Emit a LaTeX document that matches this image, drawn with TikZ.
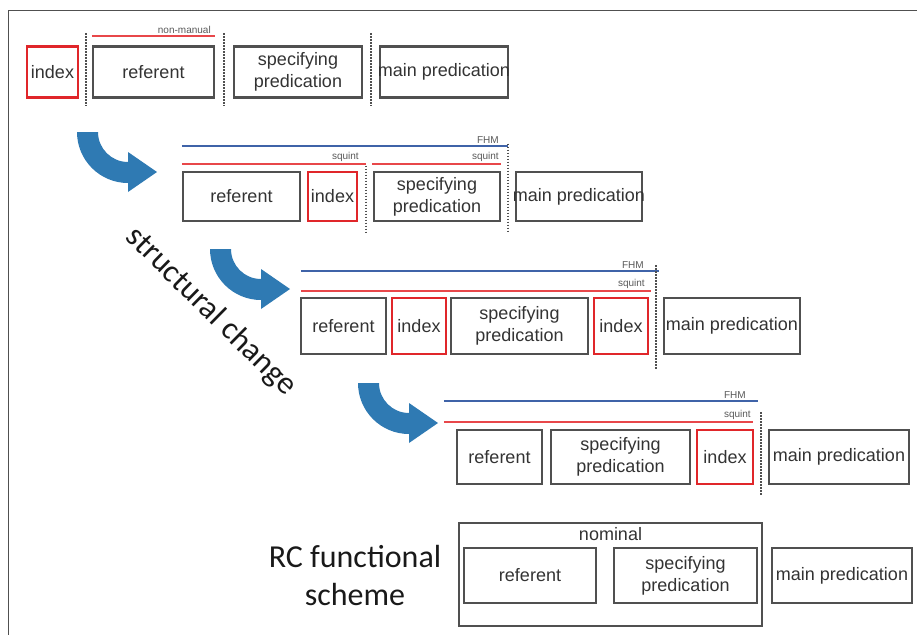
\documentclass[tikz,border=0pt]{standalone}
\usepackage{fontspec}
\usepackage{tikz}
\usetikzlibrary{positioning, calc}

\newfontfamily\boxfont{Liberation Sans}
\newfontfamily\bigfont{Carlito}
\newcommand\boxtxt{\boxfont\fontsize{18}{22}\selectfont}
\newcommand\tagtxt{\boxfont\fontsize{10}{11}\selectfont}
\newcommand\bigtxt{\bigfont\fontsize{32}{38}\selectfont}

\definecolor{boxgray}{HTML}{505050}
\definecolor{textgray}{HTML}{333333}
\definecolor{idxred}{HTML}{E0262A}
\definecolor{nmred}{HTML}{E8474A}
\definecolor{fhmblue}{HTML}{3F63A8}
\definecolor{turnblue}{HTML}{2F7AB3}

\begin{document}
\begin{tikzpicture}[
    x=1pt, y=-1pt, % pixel-like units, y grows downwards
    box/.style={draw=boxgray, line width=2.5pt, inner sep=0pt, align=center, font=\boxtxt, text=textgray}, % constituent
    idx/.style={box, draw=idxred}, % index constituent
    sep/.style={draw=boxgray, line width=2pt, dash pattern=on 1.5pt off 1.5pt}, % dotted boundary
    fhm/.style={draw=fhmblue, line width=2pt}, % FHM span
    nm/.style={draw=nmred, line width=2pt}, % non-manual / squint span
    tag/.style={font=\tagtxt, text=black!65, inner sep=1.5pt, anchor=south east} % small span label
]

    \useasboundingbox (0,0) rectangle (917,635);

    % Frame
    \draw[boxgray, line width=1pt] (917,10) -- (8,10) -- (8,635);

    % Curved arrows between the stages
    \foreach \dx/\dy in {0/0, 133/117, 281/251}
        \fill[turnblue, shift={(\dx,\dy)}] (77,132) arc[start angle=180, end angle=90, radius=51]
            -- (128,192) -- (157,172) -- (128,152) -- (128,162)
            arc[start angle=90, end angle=180, radius=30] -- cycle;

    % Stage 1
    \node[idx, minimum width=51, minimum height=51] (idxA) at (52.5,72) {index};
    \node[box, minimum width=121, minimum height=51] (refA) at (153.5,72) {referent};
    \node[box, minimum width=128, minimum height=51] (specA) at (298,72) {specifying\\predication};
    \node[box, minimum width=128, minimum height=51] (mainA) at (444,72) {\makebox[0pt]{main predication}};

    \draw[nm] ($(refA.north west)+(0,-9)$) -- ($(refA.north east)+(0,-9)$) node[tag, xshift=-2pt] {non-manual};
    \draw[sep] ($(idxA.east)!0.5!(refA.west)$) ++(0,-39) -- ++(0,73);
    \draw[sep] ($(refA.east)!0.5!(specA.west)$) ++(0,-39) -- ++(0,73);
    \draw[sep] ($(specA.east)!0.5!(mainA.west)$) ++(0,-39) -- ++(0,73);

    % Stage 2
    \node[box, minimum width=117, minimum height=49] (refB) at (241.5,196.5) {referent};
    \node[idx, minimum width=49, minimum height=49] (idxB) at (332.5,196.5) {index};
    \node[box, minimum width=126, minimum height=49] (specB) at (437,196.5) {specifying\\predication};
    \node[box, minimum width=126, minimum height=49] (mainB) at (579,196.5) {\makebox[0pt]{main predication}};

    \draw[fhm] ($(refB.north west)+(0,-25)$) -- ($(specB.north east)+(7,-25)$) node[tag, xshift=-7pt] {FHM};
    \draw[nm] ($(refB.north west)+(0,-7)$) -- ($(idxB.north east)+(8,-7)$) node[tag, xshift=-5pt] {squint};
    \draw[nm] ($(specB.north west)+(-1,-7)$) -- ($(specB.north east)+(0,-7)$) node[tag] {squint};
    \draw[sep] ($(idxB.east)!0.5!(specB.west)$) ++(0,-31) -- ++(0,67);
    \draw[sep] ($(specB.east)!0.5!(mainB.west)$) ++(0,-53) -- ++(0,89);

    % Stage 3
    \node[box, minimum width=85, minimum height=56] (refC) at (343.5,326) {referent};
    \node[idx, minimum width=54, minimum height=56] (idxC) at (419,326) {index};
    \node[box, minimum width=137, minimum height=56] (specC) at (519.5,326) {specifying\\predication};
    \node[idx, minimum width=54, minimum height=56] (idx2C) at (621,326) {index};
    \node[box, minimum width=136, minimum height=56] (mainC) at (732,326) {\makebox[0pt]{main predication}};

    \draw[fhm] ($(refC.north west)+(1,-26)$) -- ($(idx2C.north east)+(10,-26)$) node[tag, xshift=-13pt] {FHM};
    \draw[nm] ($(refC.north west)+(1,-6)$) -- ($(idx2C.north east)+(2,-6)$) node[tag, xshift=-4pt] {squint};
    \draw[sep] ($(idx2C.east)!0.5!(mainC.west)$) ++(0,-61) -- ++(0,105);

    % Stage 4
    \node[box, minimum width=85, minimum height=54] (refD) at (499.5,457) {referent};
    \node[box, minimum width=139, minimum height=54] (specD) at (620.5,457) {specifying\\predication};
    \node[idx, minimum width=56, minimum height=54] (idxD) at (725,457) {index};
    \node[box, minimum width=140, minimum height=54] (mainD) at (839,457) {\makebox[0pt]{main predication}};

    \draw[fhm] ($(refD.north west)+(-12,-28)$) -- ($(idxD.north east)+(4,-28)$) node[tag, xshift=-10pt] {FHM};
    \draw[nm] ($(refD.north west)+(-12,-7)$) -- ($(idxD.north east)+(-1,-7)$) node[tag] {squint};
    \draw[sep] ($(idxD.east)!0.5!(mainD.west)$) ++(0,-45) -- ++(0,83);

    % Functional scheme
    \node[box, minimum width=303, minimum height=103] (nomE) at (610.5,574.5) {};
    \node[font=\boxtxt, text=textgray, inner sep=2pt, below=3pt of nomE.north] (nomL) {nominal};
    \node[box, minimum width=132, minimum height=55] (refE) at (530,575.5) {referent};
    \node[box, minimum width=143, minimum height=55] (specE) at (685.5,575.5) {specifying\\predication};
    \node[box, minimum width=140, minimum height=55] (mainE) at (842,575.5) {\makebox[0pt]{main predication}};

    % Side texts
    \node[font=\bigtxt, text=black!90, rotate=-44.5] (change) at (211,312) {structural change};
    \node[font=\bigtxt, text=black!90, align=center] (rc) at (355,575) {RC functional\\scheme};

\end{tikzpicture}
\end{document}
